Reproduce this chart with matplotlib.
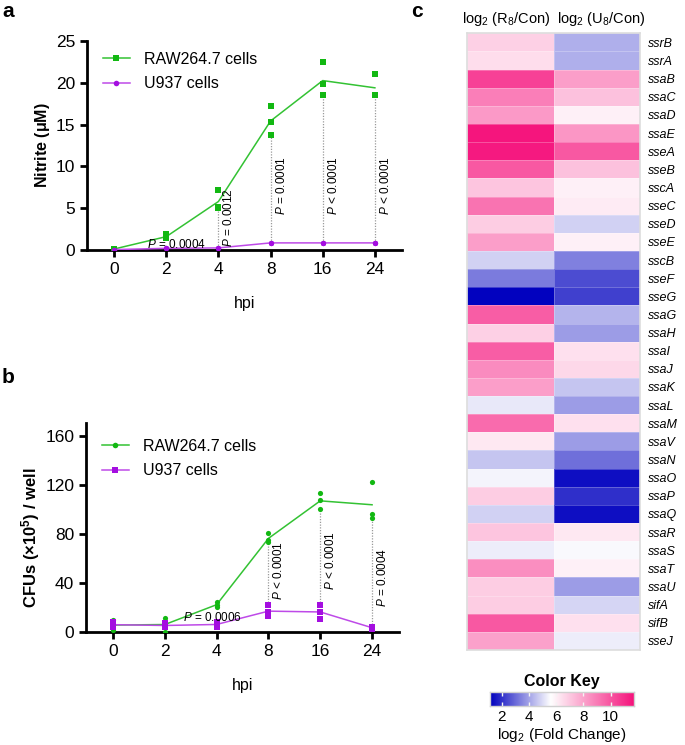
import numpy as np
import matplotlib
matplotlib.use("Agg")
import matplotlib.pyplot as plt
from matplotlib.colors import LinearSegmentedColormap, Normalize
from matplotlib.lines import Line2D

plt.rcParams['font.family'] = ['Liberation Sans', 'DejaVu Sans']
plt.rcParams['mathtext.fontset'] = 'custom'
plt.rcParams['mathtext.rm'] = 'Liberation Sans'
plt.rcParams['mathtext.it'] = 'Liberation Sans:italic'
plt.rcParams['mathtext.bf'] = 'Liberation Sans:bold'

# ---------------- data ----------------
hpi_labels = ['0', '2', '4', '8', '16', '24']

# Panel a: nitrite (uM), three replicates per time point
nitrite_raw = [[0.15, 0.1, 0.1], [1.9, 1.5, 1.4], [7.2, 5.2, 5.0],
               [17.2, 15.3, 13.8], [22.5, 19.8, 18.5], [21.1, 18.6, 18.5]]
nitrite_u937 = [[0.05, 0.05, 0.05], [0.2, 0.2, 0.2], [0.25, 0.25, 0.25],
                [0.85, 0.85, 0.85], [0.85, 0.85, 0.85], [0.85, 0.85, 0.85]]
nitrite_p = ['P = 0.0004', 'P = 0.0012', 'P = 0.0001', 'P < 0.0001', 'P < 0.0001']

# Panel b: CFUs (x10^5) per well
cfu_raw = [[10.1, 5.5, 1.4], [11.5, 6.5, 0.3], [24.6, 21.9, 20.5],
           [80.7, 75.2, 73.8], [113.5, 108.0, 100.4], [123.0, 96.3, 93.0]]
cfu_u937 = [[8.0, 6.0, 4.0], [7.0, 5.0, 4.0], [8.0, 6.0, 4.5],
            [21.9, 16.4, 12.9], [21.9, 16.4, 10.9], [4.5, 3.5, 2.5]]
cfu_p = ['P = 0.0006', 'P < 0.0001', 'P < 0.0001', 'P = 0.0004']

# Panel c: heatmap
genes = ['ssrB', 'ssrA', 'ssaB', 'ssaC', 'ssaD', 'ssaE', 'sseA', 'sseB', 'sscA',
         'sseC', 'sseD', 'sseE', 'sscB', 'sseF', 'sseG', 'ssaG', 'ssaH', 'ssaI',
         'ssaJ', 'ssaK', 'ssaL', 'ssaM', 'ssaV', 'ssaN', 'ssaO', 'ssaP', 'ssaQ',
         'ssaR', 'ssaS', 'ssaT', 'ssaU', 'sifA', 'sifB', 'sseJ']
log2_r8 = [6.8, 6.5, 10.5, 8.9, 8.2, 11.65, 11.5, 9.9, 7.1, 9.2, 6.9, 8.1, 4.8,
           3.3, 1.2, 9.8, 6.8, 9.8, 8.6, 8.1, 5.2, 9.4, 6.2, 4.6, 5.4, 6.9,
           4.8, 7.1, 5.3, 8.5, 6.9, 6.9, 9.9, 8.0]
log2_u8 = [4.2, 4.2, 8.1, 7.2, 6.0, 8.3, 9.9, 7.2, 6.0, 6.1, 4.8, 6.0, 3.4,
           2.5, 2.3, 4.3, 3.9, 6.4, 6.6, 4.6, 3.9, 6.4, 3.9, 3.1, 1.4, 2.0,
           1.4, 6.2, 5.5, 6.0, 3.9, 4.9, 6.4, 5.3]
col_labels = [r'log$_2$ (R$_8$/Con)', r'log$_2$ (U$_8$/Con)']
cbar_ticks = [2, 4, 6, 8, 10]

# ---------------- styling ----------------
GREEN_M = '#12B812'
GREEN_L = '#33C233'
PURPLE_M = '#A40EE0'
PURPLE_L = '#BE4AE8'

fig = plt.figure(figsize=(6.85, 7.45), dpi=100)
W, H = 685, 745


def px_axes(l, t, r, b):
    return fig.add_axes([l / W, 1 - b / H, (r - l) / W, (b - t) / H])


def style_line_axes(ax):
    for s in ['top', 'right']:
        ax.spines[s].set_visible(False)
    for s in ['left', 'bottom']:
        ax.spines[s].set_linewidth(2)
    ax.tick_params(width=2, length=5, labelsize=12.5, direction='out', pad=3.5)


def draw_panel(ax, raw, u937, raw_marker, u_marker, ylim, yticks, ylabel,
               ylabel_size, ylabel_x, ylabel_y, pvals, hpos, vbottoms,
               legend_top):
    x = np.arange(len(hpi_labels))
    raw = np.array(raw)
    u937 = np.array(u937)
    raw_mean = raw.mean(axis=1)
    u_mean = u937.mean(axis=1)
    ax.plot(x, raw_mean, color=GREEN_L, lw=1.1, zorder=3)
    ax.plot(x, u_mean, color=PURPLE_L, lw=1.1, zorder=3)
    for i in range(len(x)):
        ax.scatter([x[i]] * raw.shape[1], raw[i], marker=raw_marker, s=14,
                   color=GREEN_M, zorder=4, linewidths=0)
        ax.scatter([x[i]] * u937.shape[1], u937[i], marker=u_marker, s=14,
                   color=PURPLE_M, zorder=4, linewidths=0)
    # p-value annotations
    hx, hy = hpos
    ax.text(hx, hy, r'$\it{P}$' + pvals[0][1:], fontsize=8.5, ha='center',
            va='center', zorder=5)
    idx_v = list(range(len(x) - len(pvals) + 1, len(x)))
    for k, i in enumerate(idx_v):
        lo = u937[i].max()
        hi = raw[i].min()
        ax.plot([x[i], x[i]], [lo, hi], ls=(0, (1, 1.2)), color='#9a9a9a',
                lw=0.9, zorder=2)
        ax.text(x[i] + 0.2, vbottoms[k], r'$\it{P}$' + pvals[k + 1][1:],
                rotation=90, fontsize=8.5, ha='center', va='bottom')
    ax.set_xlim(-0.52, 5.52)
    ax.set_ylim(*ylim)
    ax.set_yticks(yticks)
    ax.set_xticks(x)
    ax.set_xticklabels(hpi_labels)
    ax.set_xlabel('hpi', fontsize=11.5, labelpad=14)
    ax.set_ylabel(ylabel, fontsize=ylabel_size, fontweight='bold')
    ax.yaxis.set_label_coords(ylabel_x, ylabel_y)
    style_line_axes(ax)
    handles = [Line2D([0], [0], color=GREEN_L, lw=1.1, marker=raw_marker,
                      markersize=4, markerfacecolor=GREEN_M,
                      markeredgewidth=0),
               Line2D([0], [0], color=PURPLE_L, lw=1.1, marker=u_marker,
                      markersize=4, markerfacecolor=PURPLE_M,
                      markeredgewidth=0)]
    ax.legend(handles, ['RAW264.7 cells', 'U937 cells'], loc='upper left',
              bbox_to_anchor=(0.04, legend_top), frameon=False, fontsize=11.5,
              handlelength=1.7, handletextpad=0.9, labelspacing=0.6,
              borderaxespad=0, borderpad=0.2)


# Panel a
ax_a = px_axes(87, 41, 402, 250)
draw_panel(ax_a, nitrite_raw, nitrite_u937, 's', 'o', (0, 25),
           [0, 5, 10, 15, 20, 25], r'Nitrite ($\mathbf{\mu}$M)', 11.5,
           -0.11, 0.5, nitrite_p, (1.19, 0.7), [0.4, 4.2, 4.2, 4.2], 0.965)

# Panel b
ax_b = px_axes(86, 423, 399, 632)
draw_panel(ax_b, cfu_raw, cfu_u937, 'o', 's', (0, 171),
           [0, 40, 80, 120, 160],
           r'CFUs (×10$^{\mathbf{5}}$) / well', 12, -0.14, 0.45, cfu_p,
           (1.92, 11.5), [26, 34, 20.5], 0.94)

fig.text(2 / W, 1 - 2 / H, 'a', fontsize=15, fontweight='bold', va='top')
fig.text(2 / W, 1 - 368 / H, 'b', fontsize=15, fontweight='bold', va='top')
fig.text(411 / W, 1 - 2 / H, 'c', fontsize=15, fontweight='bold', va='top')

# Panel c heatmap
vmin, vmax = 1.15, 11.7
white_pos = (5.6 - vmin) / (vmax - vmin)
cmap = LinearSegmentedColormap.from_list(
    'bwp', [(0, '#0000BE'), (white_pos, '#FFFFFF'), (1, '#F5137C')])
norm = Normalize(vmin=vmin, vmax=vmax)

ax_c = px_axes(467, 33.3, 640, 650)
data = np.column_stack([log2_r8, log2_u8])
ax_c.pcolormesh(np.arange(3), np.arange(len(genes) + 1), data, cmap=cmap,
                norm=norm, edgecolors=(1, 1, 1, 0.25), linewidth=0.4)
ax_c.set_xlim(0, 2)
ax_c.set_ylim(len(genes), 0)
ax_c.set_yticks(np.arange(len(genes)) + 0.5)
ax_c.set_yticklabels(genes, fontsize=9, fontstyle='italic')
ax_c.yaxis.tick_right()
ax_c.set_xticks([0.45, 1.55])
ax_c.set_xticklabels(col_labels, fontsize=10.5)
ax_c.xaxis.tick_top()
ax_c.tick_params(length=0, pad=4)
ax_c.tick_params(axis='y', pad=6)
for s in ax_c.spines.values():
    s.set_color('#dddddd')
    s.set_linewidth(1.2)

# Color key
ax_k = px_axes(490, 692, 634, 706)
grad = np.linspace(vmin, vmax, 256).reshape(1, -1)
ax_k.imshow(grad, aspect='auto', cmap=cmap, norm=norm,
            extent=[vmin, vmax, 0, 1])
ax_k.set_xlim(vmin, vmax)
ax_k.set_yticks([])
ax_k.set_xticks(cbar_ticks)
ax_k.tick_params(axis='x', direction='in', color='#f4f4f4', length=3,
                 width=1, top=True, bottom=True, labelsize=11, pad=3)
for s in ax_k.spines.values():
    s.set_color('#d0d0d0')
    s.set_linewidth(1)
ax_k.set_title('Color Key', fontsize=11.5, fontweight='bold', pad=4)
ax_k.set_xlabel(r'log$_2$ (Fold Change)', fontsize=11, labelpad=1)

fig.savefig('out.png', dpi=100)
